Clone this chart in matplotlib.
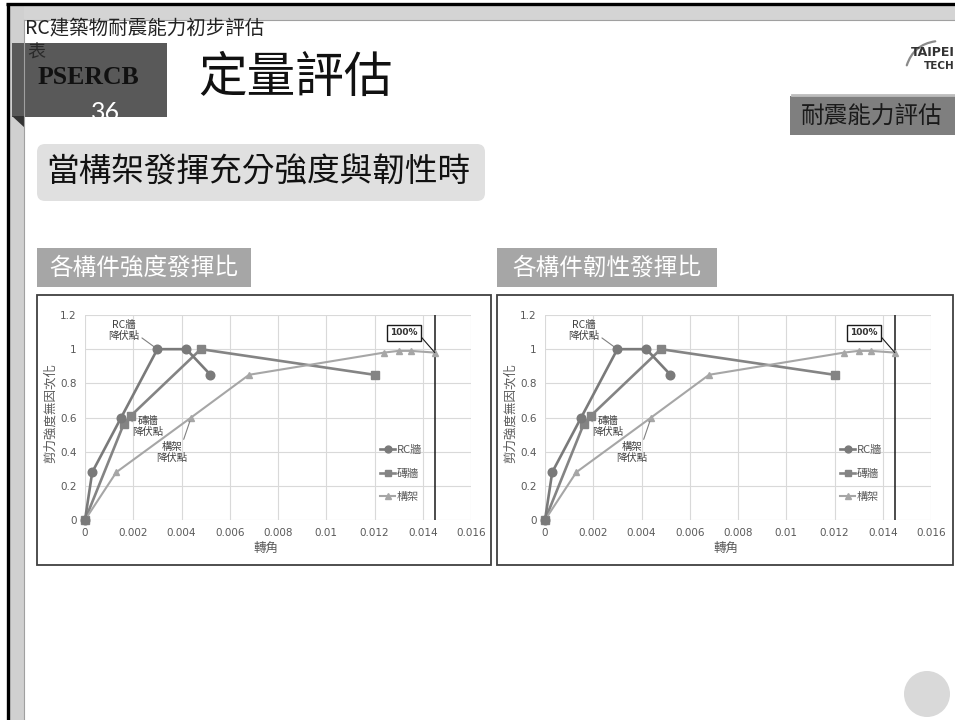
import matplotlib
matplotlib.use('Agg')
import matplotlib.pyplot as plt
from matplotlib.patches import Rectangle, FancyBboxPatch, Circle, Polygon, FancyArrowPatch

plt.rcParams['font.family'] = ['Noto Sans CJK TC', 'DejaVu Sans']

# ---------------- data ----------------
x_ticks = [0, 0.002, 0.004, 0.006, 0.008, 0.010, 0.012, 0.014, 0.016]
x_tick_labels = ['0', '0.002', '0.004', '0.006', '0.008', '0.01', '0.012', '0.014', '0.016']
y_ticks = [0, 0.2, 0.4, 0.6, 0.8, 1.0, 1.2]
y_tick_labels = ['0', '0.2', '0.4', '0.6', '0.8', '1', '1.2']

series_names = ['RC牆', '磚牆', '構架']
rc_x = [0, 0.0003, 0.0015, 0.0030, 0.0042, 0.0052]
rc_y = [0, 0.28, 0.60, 1.00, 1.00, 0.85]
brick_x = [0, 0.0016, 0.0019, 0.0048, 0.0120]
brick_y = [0, 0.56, 0.61, 1.00, 0.85]
frame_x = [0, 0.0013, 0.0044, 0.0068, 0.0124, 0.0130, 0.0135, 0.0145]
frame_y = [0, 0.28, 0.60, 0.85, 0.98, 0.99, 0.99, 0.98]
limit_drift = 0.0145
limit_label = '100%'
yield_labels = ['RC牆\n降伏點', '磚牆\n降伏點', '構架\n降伏點']

x_label = '轉角'
y_label = '剪力強度無因次化'
chart_titles = ['各構件強度發揮比', '各構件韌性發揮比']

header_text = 'RC建築物耐震能力初步評估'
header_text2 = '表'
badge_text = 'PSERCB'
page_no = '36'
slide_title = '定量評估'
section_tag = '耐震能力評估'
subtitle = '當構架發揮充分強度與韌性時'

# ---------------- figure ----------------
W, H = 955, 720
fig = plt.figure(figsize=(W / 100, H / 100), dpi=100)
fig.patch.set_facecolor('white')

bg = fig.add_axes([0, 0, 1, 1])
bg.set_xlim(0, W)
bg.set_ylim(H, 0)
bg.axis('off')

# frame / borders
bg.add_patch(Rectangle((9, 5), W - 9, 15, facecolor='#d4d4d4', edgecolor='none'))
bg.add_patch(Rectangle((9, 5), 15, H - 5, facecolor='#d0d0d0', edgecolor='none'))
bg.plot([24, W], [20, 20], color='#a0a0a0', lw=0.8)
bg.plot([24, 24], [20, H], color='#a0a0a0', lw=0.8)
bg.plot([6, W], [3.5, 3.5], color='black', lw=2.4, solid_capstyle='butt')
bg.plot([7.5, 7.5], [3, H], color='black', lw=2.4, solid_capstyle='butt')

# header
bg.text(25, 28, header_text, fontsize=14, color='#222222', va='center', ha='left')
badge = Rectangle((12, 43), 155, 74, facecolor='#595959', edgecolor='none')
bg.add_patch(badge)
bg.add_patch(Polygon([(12, 116), (25, 116), (25, 128)], closed=True,
                     facecolor='#333333', edgecolor='none'))
bg.text(27, 53, header_text2, fontsize=13, color='#2a2a2a', va='center', ha='left')
bg.text(88, 78, badge_text, fontsize=18.5, fontweight='bold', color='#111111',
        family=['Liberation Serif', 'DejaVu Serif'], ha='center', va='center')
t36 = bg.text(106, 101, page_no, fontsize=18, color='white', ha='center', va='top',
              family=['Lato', 'DejaVu Sans'])
t36.set_clip_path(badge)

bg.text(295, 78, slide_title, fontsize=35, color='#111111', ha='center', va='center',
        fontweight='light')

# logo
bg.add_patch(FancyArrowPatch((906, 68), (938, 41), connectionstyle='arc3,rad=-0.35',
                             arrowstyle='-', color='#8a8a8a', lw=1.6))
bg.text(955, 53, 'TAIPEI', fontsize=9, fontweight='bold', color='#333333',
        ha='right', va='center', family=['DejaVu Sans'])
bg.text(955, 66, 'TECH', fontsize=7.5, fontweight='bold', color='#333333',
        ha='right', va='center', family=['DejaVu Sans'])

# section tag
bg.plot([792, W], [94.5, 94.5], color='#bdbdbd', lw=2)
bg.add_patch(Rectangle((790, 96), W - 790, 39, facecolor='#7f7f7f', edgecolor='none'))
bg.text(872, 116, section_tag, fontsize=17, color='#1a1a1a', ha='center', va='center')

# subtitle
bg.add_patch(FancyBboxPatch((37, 144), 448, 57, boxstyle='round,pad=0,rounding_size=8',
                            facecolor='#e0e0e0', edgecolor='none'))
bg.text(258, 173, subtitle, fontsize=23.5, color='#111111', ha='center', va='center')

# chart title boxes
bg.add_patch(Rectangle((37, 248), 214, 39, facecolor='#a6a6a6', edgecolor='none'))
bg.text(144, 268, chart_titles[0], fontsize=17, color='white', ha='center', va='center')
bg.add_patch(Rectangle((497, 248), 220, 39, facecolor='#a6a6a6', edgecolor='none'))
bg.text(607, 268, chart_titles[1], fontsize=17, color='white', ha='center', va='center')

# chart frames
bg.add_patch(Rectangle((37, 295), 454, 270, facecolor='white', edgecolor='#404040', lw=1.3))
bg.add_patch(Rectangle((497, 295), 456, 270, facecolor='white', edgecolor='#404040', lw=1.3))

# page circle
bg.add_patch(Circle((927, 694), 23, facecolor='#d9d9d9', edgecolor='none'))


def draw_chart(left_px):
    ax = fig.add_axes([left_px / W, 1 - 520 / H, 386 / W, 205 / H])
    ax.set_facecolor('none')
    ax.set_xlim(0, 0.016)
    ax.set_ylim(0, 1.2)
    ax.set_xticks(x_ticks)
    ax.set_xticklabels(x_tick_labels)
    ax.set_yticks(y_ticks)
    ax.set_yticklabels(y_tick_labels)
    ax.grid(True, color='#d9d9d9', lw=0.8)
    ax.set_axisbelow(True)
    for s in ax.spines.values():
        s.set_visible(False)
    ax.tick_params(length=0, labelsize=7.5, labelcolor='#595959', pad=6)
    for lab in ax.get_xticklabels() + ax.get_yticklabels():
        lab.set_family(['DejaVu Sans'])

    ax.plot(rc_x, rc_y, '-o', color='#7a7a7a', lw=1.9, ms=6.2,
            label=series_names[0], zorder=4, clip_on=False)
    ax.plot(brick_x, brick_y, '-s', color='#848484', lw=1.9, ms=5.8,
            label=series_names[1], zorder=3, clip_on=False)
    ax.plot(frame_x, frame_y, '-^', color='#a6a6a6', lw=1.5, ms=5,
            label=series_names[2], zorder=3, clip_on=False)
    ax.axvline(limit_drift, color='#1a1a1a', lw=1.1, zorder=2)

    ax.legend(loc='upper left', bbox_to_anchor=(0.765, 0.365), frameon=False,
              borderaxespad=0, borderpad=0, handlelength=1.3, handletextpad=0.15,
              labelspacing=1.2, fontsize=8, labelcolor='#595959', markerscale=0.8)

    ann_kw = dict(fontsize=7.5, color='#404040', ha='center', va='center',
                  textcoords='data', linespacing=1.1)
    ax.annotate(yield_labels[0], xy=(rc_x[3], rc_y[3]), xytext=(0.0016, 1.108),
                arrowprops=dict(arrowstyle='-', color='#808080', lw=0.8,
                                shrinkA=0, shrinkB=3, relpos=(1.0, 0.25)), **ann_kw)
    ax.annotate(yield_labels[1], xy=(brick_x[2], brick_y[2]), xytext=(0.0026, 0.545),
                arrowprops=dict(arrowstyle='-', color='#808080', lw=0.8,
                                shrinkA=0, shrinkB=3, relpos=(0.0, 0.75)), **ann_kw)
    ax.annotate(yield_labels[2], xy=(frame_x[2], frame_y[2]), xytext=(0.0036, 0.395),
                arrowprops=dict(arrowstyle='-', color='#808080', lw=0.8,
                                shrinkA=0, shrinkB=3, relpos=(0.85, 1.0)), **ann_kw)
    ax.annotate(limit_label, xy=(frame_x[-1], frame_y[-1]), xytext=(0.01322, 1.095),
                fontsize=6.5, fontweight='bold', color='#333333', ha='center', va='center',
                family=['DejaVu Sans'],
                bbox=dict(boxstyle='square,pad=0.35', facecolor='white',
                          edgecolor='#1a1a1a', lw=1.0),
                arrowprops=dict(arrowstyle='-', color='#1a1a1a', lw=0.8,
                                shrinkA=0, shrinkB=0, relpos=(1.0, 0.5)))

    ax.set_xlabel(x_label, fontsize=9, color='#595959')
    ax.xaxis.set_label_coords(0.469, -0.105)
    ax.set_ylabel(y_label, fontsize=9, color='#595959')
    ax.yaxis.set_label_coords(-0.072, 0.52)
    return ax


draw_chart(85)
draw_chart(545)

fig.savefig('out.png', dpi=100)
